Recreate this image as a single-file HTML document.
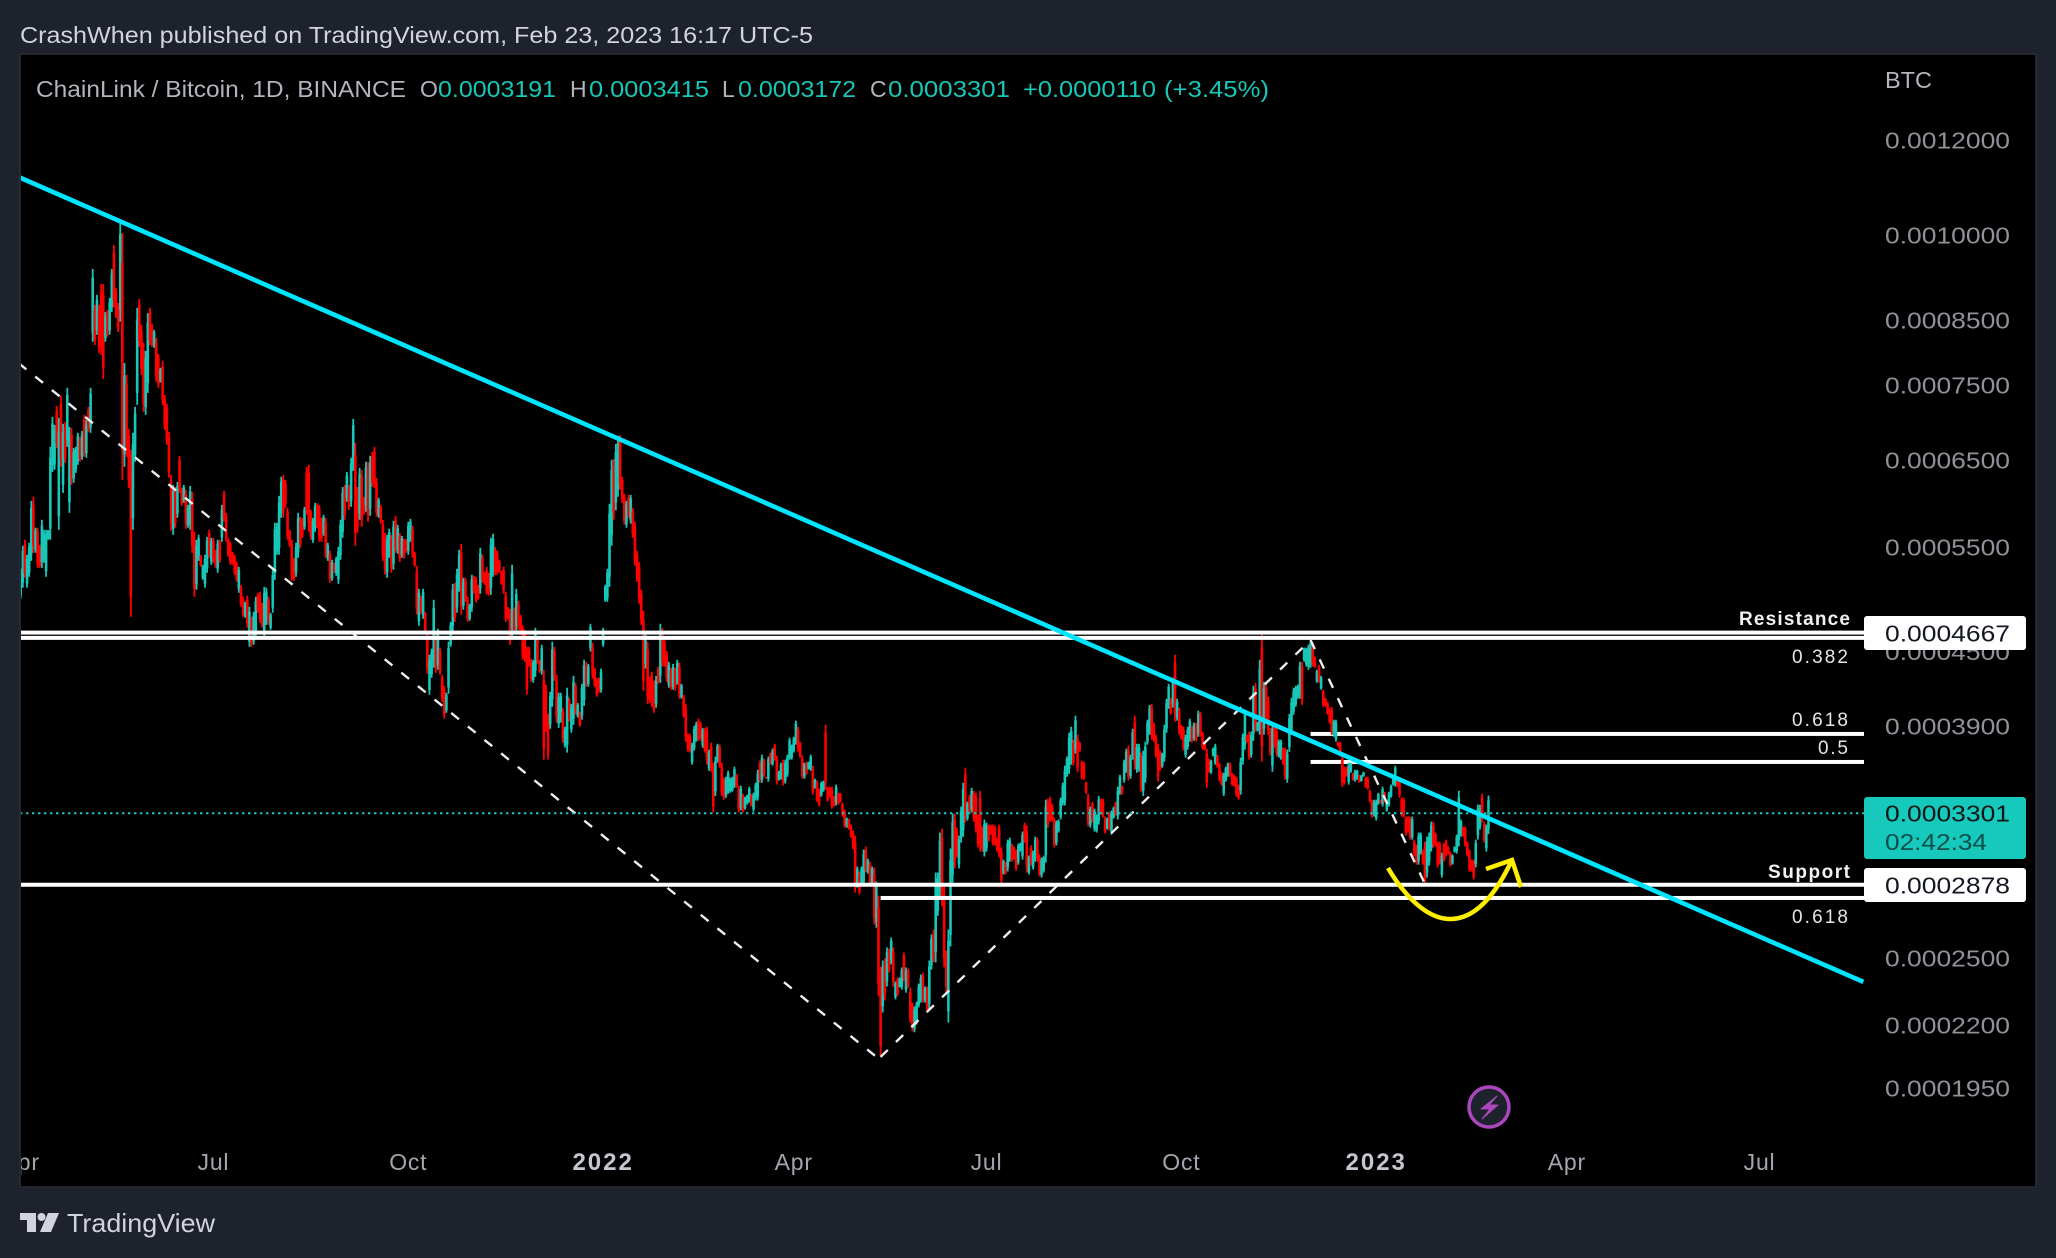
<!DOCTYPE html>
<html lang="en">
<head>
<meta charset="utf-8">
<title>ChainLink / Bitcoin chart</title>
<style>
html,body{margin:0;padding:0;background:#1e222d;}
svg{display:block;font-family:"Liberation Sans",sans-serif;}
</style>
</head>
<body>
<svg id="chart" xmlns="http://www.w3.org/2000/svg" width="2056" height="1258" viewBox="0 0 2056 1258">
  <defs><clipPath id="panel-clip"><rect x="21" y="55" width="2014" height="1131"/></clipPath></defs>
  <rect x="0" y="0" width="2056" height="1258" fill="#1e222d"/>
  <rect x="20" y="54" width="2016" height="1133" fill="#000" stroke="#2a2e39" stroke-width="1.5"/>
  <text x="20" y="43" font-size="23" fill="#d1d4dc" textLength="793" lengthAdjust="spacingAndGlyphs">CrashWhen published on TradingView.com, Feb 23, 2023 16:17 UTC-5</text>

  <g id="fib-lines"></g>
  <g id="candles" clip-path="url(#panel-clip)"></g>
  <g id="level-lines" clip-path="url(#panel-clip)"></g>
  <g id="dashes" clip-path="url(#panel-clip)"></g>
  <g id="last-price" clip-path="url(#panel-clip)"></g>
  <g id="trend" clip-path="url(#panel-clip)"></g>

  <g fill="none" stroke="#ffee00" stroke-width="4.5">
    <path d="M1388 868 C1410 905 1433 920 1452 919 C1476 918 1496 894 1512 860"/>
    <path d="M1486 869 L1512 860 L1521 887"/>
  </g>

  <g id="price-axis"></g>
  <g id="time-axis" clip-path="url(#panel-clip)"></g>

  <text x="1885" y="88" font-size="23" fill="#b2b5be" textLength="47" lengthAdjust="spacingAndGlyphs">BTC</text>

  <g font-size="23">
    <text x="36" y="97" fill="#b2b5be" textLength="370" lengthAdjust="spacingAndGlyphs">ChainLink / Bitcoin, 1D, BINANCE</text>
    <text x="420" y="97" fill="#b2b5be">O</text>
    <text x="438" y="97" fill="#17c7b7" textLength="118" lengthAdjust="spacingAndGlyphs">0.0003191</text>
    <text x="570" y="97" fill="#b2b5be">H</text>
    <text x="589" y="97" fill="#17c7b7" textLength="120" lengthAdjust="spacingAndGlyphs">0.0003415</text>
    <text x="722" y="97" fill="#b2b5be">L</text>
    <text x="738" y="97" fill="#17c7b7" textLength="118" lengthAdjust="spacingAndGlyphs">0.0003172</text>
    <text x="870" y="97" fill="#b2b5be">C</text>
    <text x="888" y="97" fill="#17c7b7" textLength="122" lengthAdjust="spacingAndGlyphs">0.0003301</text>
    <text x="1023" y="97" fill="#17c7b7" textLength="133" lengthAdjust="spacingAndGlyphs">+0.0000110</text>
    <text x="1164" y="97" fill="#17c7b7" textLength="105" lengthAdjust="spacingAndGlyphs">(+3.45%)</text>
  </g>

  <g>
    <text x="1739" y="625" font-size="19" font-weight="bold" fill="#f2f2f2" textLength="111" lengthAdjust="spacing">Resistance</text>
    <text x="1768" y="878" font-size="19" font-weight="bold" fill="#f2f2f2" textLength="82" lengthAdjust="spacing">Support</text>
    <text x="1792" y="663" font-size="19" fill="#e6e6e6" textLength="56" lengthAdjust="spacing">0.382</text>
    <text x="1792" y="726" font-size="19" fill="#e6e6e6" textLength="56" lengthAdjust="spacing">0.618</text>
    <text x="1818" y="754" font-size="19" fill="#e6e6e6" textLength="30" lengthAdjust="spacing">0.5</text>
    <text x="1792" y="923" font-size="19" fill="#e6e6e6" textLength="56" lengthAdjust="spacing">0.618</text>
  </g>

  <g>
    <rect x="1864" y="616" width="162" height="34" rx="3" fill="#fff"/>
    <text x="1885" y="641.5" font-size="23" fill="#131722" textLength="125" lengthAdjust="spacingAndGlyphs">0.0004667</text>
  </g>
  <g>
    <rect x="1864" y="797" width="162" height="62" rx="3" fill="#17c9bc"/>
    <text x="1885" y="821.5" font-size="23" fill="#0b1514" textLength="125" lengthAdjust="spacingAndGlyphs">0.0003301</text>
    <text x="1885" y="850" font-size="23" fill="#0b4f4a" textLength="102" lengthAdjust="spacingAndGlyphs">02:42:34</text>
  </g>
  <g>
    <rect x="1864" y="868" width="162" height="34" rx="3" fill="#fff"/>
    <text x="1885" y="893.5" font-size="23" fill="#131722" textLength="125" lengthAdjust="spacingAndGlyphs">0.0002878</text>
  </g>

  <g>
    <circle cx="1489" cy="1107" r="20" fill="#1e222d" stroke="#ab47bc" stroke-width="3.5"/>
    <path d="M1497 1096 L1481 1109 L1490 1109 L1482 1119 L1498 1105 L1489 1105 Z" fill="#ab47bc" stroke="#ab47bc" stroke-width="1" stroke-linejoin="round"/>
  </g>

  <g>
    <path d="M20 1213 H36 V1232 H27 V1220 H20 Z" fill="#d1d4dc"/>
    <circle cx="41.5" cy="1217" r="4" fill="#d1d4dc"/>
    <path d="M48 1213 H59 L51 1232 H40 Z" fill="#d1d4dc"/>
    <text x="67" y="1232" font-size="26" fill="#d1d4dc" textLength="148" lengthAdjust="spacingAndGlyphs">TradingView</text>
  </g>
</svg>

<script>
// All prices are in units of 0.0000001 BTC. One entry per daily candle, starting 2021-04-01.
const candleHighs = [
5274,5512,5576,5418,5544,6008,6055,5706,5706,5523,
5794,5684,5684,5684,6664,7058,6950,7208,7045,7350,
6965,6990,7462,6924,6910,6650,6664,6845,6793,6870,
7085,7018,7195,7462,9372,8750,8917,8750,9105,9105,
8630,8664,8865,9372,9810,9038,8780,10250,10040,7825,
7650,6897,6625,6845,7195,8700,8850,8420,8135,8010,
8610,8700,8435,8339,8210,7965,7755,7858,7362,7235,
6858,6315,6195,6170,6230,6550,6160,6195,6136,5963,
6183,6113,5662,5576,5630,5418,5315,5418,5608,5684,
5597,5597,5470,5576,5576,5963,6125,5872,5597,5554,
5449,5418,5345,5294,5115,4999,4951,5009,4904,4810,
4857,4999,5037,5047,4942,5095,5086,4999,4848,5264,
5760,5760,6066,6292,6315,6255,5929,5684,5576,5387,
5544,5872,5827,5816,5940,6413,6438,5906,5816,5985,
5980,5963,5816,5850,5816,5544,5460,5366,5335,5398,
5502,5794,6170,6195,6351,6195,6525,7030,6715,6170,
6400,6376,6055,6475,6475,6550,6600,6664,6280,6043,
5963,5794,5651,5630,5695,5630,5783,5838,5739,5651,
5619,5587,5587,5772,5805,5728,5449,5305,5076,5009,
5076,4857,4674,4473,4525,4970,4665,4701,4534,4305,
4215,4159,4586,4764,5124,5134,5274,5470,5533,5184,
5184,4999,4932,5214,5204,5194,5115,5491,5418,5244,
5294,5234,5597,5641,5500,5460,5366,5254,5294,5047,
4904,4885,5315,4895,5076,4960,4830,4737,4692,4542,
4542,4438,4430,4710,4630,4430,4560,4346,4223,3994,
4167,4586,4542,4305,4159,4159,4041,3896,4199,4119,
4071,4296,4239,4079,4010,4231,4430,4413,4396,4746,
4578,4363,4280,4280,4355,4710,5115,5274,5974,6500,
6512,6700,6806,6819,6292,6090,6008,6078,6078,5929,
5772,5460,5345,5066,4866,4683,4586,4288,4330,4255,
4296,4372,4746,4710,4603,4507,4413,4363,4396,4363,
4430,4405,4231,4143,4071,3845,3845,3779,3903,3934,
3957,3934,3888,3888,3896,3729,3779,3637,3680,3771,
3765,3637,3534,3540,3581,3534,3540,3609,3560,3480,
3480,3426,3407,3420,3473,3426,3433,3500,3588,3651,
3693,3665,3540,3680,3708,3736,3771,3686,3581,3637,
3658,3658,3693,3815,3765,3822,3942,3896,3786,3686,
3637,3644,3644,3693,3616,3527,3514,3460,3507,3514,
3911,3473,3473,3473,3412,3487,3433,3433,3369,3324,
3274,3267,3230,3193,3162,2980,2952,2980,3079,3097,
3026,3008,2980,2975,2896,2818,2460,2489,2499,2552,
2547,2601,2552,2391,2409,2409,2456,2527,2456,2451,
2363,2296,2279,2300,2381,2423,2432,2368,2368,2489,
2616,2641,2946,2946,3181,3205,2868,2537,2641,3085,
3298,3298,3211,3162,3343,3500,3602,3375,3420,3466,
3446,3433,3292,3446,3218,3261,3242,3230,3230,3230,3224,
3150,3230,3091,3020,3008,3138,3150,3114,3097,3079,
3114,3120,3187,3242,3224,3044,3103,3073,3156,3150,
3050,3032,3044,3388,3394,3407,3362,3274,3255,3261,
3401,3500,3616,3680,3852,3896,3801,3980,3837,3786,
3651,3644,3507,3426,3343,3375,3330,3292,3412,3394,
3394,3280,3274,3311,3318,3343,3375,3473,3553,3480,
3658,3736,3758,3693,3881,3980,3771,3771,3708,3722,
3786,3949,4063,4071,3927,3837,3771,3722,3708,3911,
4111,4231,4119,4280,4473,4111,4041,3911,3896,3837,
3896,3957,3903,3927,3927,4018,4010,3860,3786,3736,
3665,3658,3743,3771,3693,3637,3574,3567,3609,3637,
3637,3567,3553,3540,3487,3672,3845,4025,3837,3860,3860,
4215,4239,3934,4430,4674,4247,4239,4127,3888,3927,
3911,3888,3801,3801,3743,3743,3729,3994,4119,4199,
4215,4223,4413,4413,4534,4534,4560,4603,4578,4456,
4346,4388,4296,4183,4119,4087,4041,4048,3949,3949,
3786,3786,3693,3609,3609,3637,3637,3567,3588,3588,
3553,3553,3574,3540,3540,3453,3388,3388,3388,
3433,3388,3473,3440,3388,3440,3487,3553,3616,3540,
3540,3401,3401,3280,3280,3280,3280,3138,3108,3181,
3181,3079,3126,3156,3181,3248,3248,3181,3126,3126,
3061,3120,3138,3097,3067,3050,3097,3168,3446,3261,
3218,3218,3126,3079,3020,3020,3138,3356,3356,
3426,3248,3230,3415
];
const candleLows = [
4980,5086,5184,5086,5194,5355,5438,5438,5284,5284,
5284,5335,5194,5576,5576,6351,6376,6650,5684,6413,
6100,6462,6664,5872,6195,6219,6339,6438,6475,6500,
6537,6525,6858,6845,8150,8100,8260,7980,7950,7590,
8150,8230,8260,8630,8700,8530,8305,8470,6255,6413,
6537,6160,4810,5684,6475,7222,8070,7650,7125,7085,
7390,8100,8070,8055,7550,7462,7535,7222,6884,6690,
6280,5673,5630,5706,5816,6100,5950,5985,5695,5706,
5684,5438,4999,5066,5355,5294,5164,5086,5234,5387,
5315,5335,5284,5234,5335,5554,5772,5554,5398,5315,
5315,5214,5144,5037,4904,4810,4801,4710,4542,4542,
4560,4621,4848,4755,4710,4612,4737,4737,4692,4848,
5164,5418,5418,5816,5816,5929,5576,5502,5154,5154,
5194,5387,5491,5597,5684,5850,5662,5576,5544,5662,
5700,5554,5554,5619,5387,5355,5134,5154,5234,5204,
5124,5366,5597,5794,5997,5906,5940,6364,5512,5651,
5794,5717,5850,5883,5772,5838,6170,6160,5827,5816,
5750,5355,5214,5184,5387,5234,5264,5438,5428,5345,
5387,5377,5438,5418,5554,5387,5294,4830,4728,4839,
4792,4665,4313,4143,4280,4363,4321,4346,4305,4087,
3957,4002,4151,4542,4674,4764,4848,5047,4830,4876,
4951,4764,4774,4857,5028,4942,4970,5028,5134,5115,
5018,5009,5018,5194,5210,5214,5234,5115,5028,4764,
4783,4560,4630,4665,4674,4692,4647,4430,4413,4143,
4372,4247,4239,4288,4396,4321,4305,3658,3860,3658,
3881,4048,4255,3927,3888,3927,3779,3743,3708,3934,
3852,3911,3987,3965,3896,3949,4056,4207,4207,4500,
4272,4207,4127,4159,4159,4542,4951,4951,5095,5512,
5794,5900,6055,6136,5985,5739,5706,5816,5750,5597,
5305,5144,4932,4737,4175,4355,4071,4079,4048,4002,
4041,4231,4239,4372,4372,4247,4199,4183,4183,4175,
4223,4111,4111,3965,3786,3714,3708,3623,3722,3786,
3793,3793,3743,3708,3623,3581,3574,3305,3412,3637,
3602,3412,3388,3400,3426,3433,3440,3466,3466,3305,
3318,3305,3324,3356,3369,3343,3311,3382,3382,3500,
3500,3540,3527,3507,3623,3616,3651,3487,3514,3520,
3480,3494,3540,3658,3658,3708,3765,3714,3672,3527,
3527,3553,3588,3581,3420,3460,3375,3343,3407,3440,
3453,3375,3401,3330,3343,3350,3356,3369,3280,3211,
3211,3199,3150,3079,2835,2862,2824,2868,2868,2946,
2940,2874,2874,2666,2650,2324,2070,2253,2305,2368,
2432,2470,2368,2310,2324,2363,2354,2391,2340,2363,
2210,2173,2169,2201,2275,2296,2296,2296,2253,2266,
2446,2480,2480,2712,2797,2760,2456,2345,2210,2557,
2890,2969,3032,2969,3120,3156,3242,3255,3305,3305,
3248,3181,3091,3067,3067,3038,3067,3126,3168,3103,3103,
3067,3032,2879,2935,2935,2952,3008,3008,3020,2957,
2991,3067,3020,3120,2946,2935,2986,2963,3008,3008,
2924,2918,2946,3003,3211,3248,3248,3091,3103,3181,
3261,3350,3350,3540,3560,3623,3616,3700,3574,3714,
3520,3520,3426,3218,3211,3242,3187,3181,3230,3292,
3274,3175,3199,3193,3168,3267,3286,3261,3420,3420,
3500,3567,3514,3527,3658,3588,3567,3574,3440,3412,
3500,3765,3837,3801,3786,3672,3507,3581,3602,3644,
3852,4033,3987,4041,3934,3942,3837,3801,3722,3672,
3729,3786,3779,3793,3786,3822,3822,3729,3722,3466,
3567,3560,3680,3623,3602,3507,3480,3412,3507,3540,
3540,3480,3473,3407,3388,3420,3623,3729,3779,3658,3672,
3793,3860,3860,3837,3644,3837,3927,3837,3686,3574,
3743,3680,3672,3658,3623,3520,3500,3714,3837,3987,
4048,4111,4111,4063,4413,4372,4346,4363,4372,4363,
4239,4239,4183,4048,4048,3987,3919,3837,3822,3786,
3750,3680,3473,3487,3540,3487,3567,3514,3507,3520,
3500,3507,3540,3466,3453,3369,3274,3280,3255,
3356,3362,3343,3369,3311,3343,3401,3480,3473,3473,
3401,3280,3274,3162,3181,3138,3138,3038,2991,2991,
3050,2991,2879,2918,2986,3067,3091,3097,2975,2991,
2918,3008,3038,3050,2980,2991,3061,3055,3097,3156,
3156,3097,3038,2952,2952,2907,2975,3138,3199,
3242,3120,3067,3172
];
// G = bullish candle, R = bearish candle.
const candleDirections = (
"GGRGGGRGRR"+"GGGGGGGRGR"+"GRGGRGGGRG"+"RGRGGRGRRR"+"GRGGRRRGRG"+
"RRRGGGRRRG"+"GRRGRRGRRR"+"RRGRGRRGRG"+"GRRGGRGGGR"+"GRRGRGRRRR"+
"RRRGRRGRGR"+"GGRRRGGRGG"+"GGGGRRRRRR"+"GGRRGRRRGG"+"RRRGRGRGRG"+
"GGGRGRGGRR"+"GRRGRGRRRG"+"RRRGGRGRGR"+"GRRGGRRRGR"+"GRRGGGRGRR"+
"RGGGGRGGRG"+"RRGGRRRGRR"+"RRGGRRRRRR"+"RRGRGRRRRR"+"RRGGRRGRRR"+
"GGRRGGRGGR"+"GGRGRGGRGG"+"RRRRGGGGGG"+"RGGRRRGRGR"+"RRRRRGRRRR"+
"GRGRRRGRGR"+"GRGRRRRGGG"+"RRGRRGRRGG"+"RRRGGGGGRR"+"GRGGGRGGGR"+
"GRRGRGRRGG"+"RGGGGGGRRR"+"GRGGRGRRGG"+"RRRRRGRRRR"+"GRRRRGRGGR"+
"GRGRGRRGRG"+"RGRGRGGRGR"+"RRGGGGRGRG"+"GRGGGRRRGG"+"GRRGGGRGRG"+
"RRRRRGGRRRR"+"RRRGRGGRRR"+"GGGRRGRGGR"+"RGGGRRRRGG"+"GGGGGGRGRR"+
"RRRRGRGGGR"+"RRGRGGRGGR"+"GGRGGRGGRG"+"GGGRRRRRGG"+"GGRGRGRRRG"+
"GGRGRGRRRR"+"RGGGRRRGGG"+"RRRRRGGGRRG"+"GRGGRGRRRG"+"RRGGRRGGGG"+
"GGGRGGGGRR"+"GRGRRRRRGG"+"RRRRRGGRGG"+"RGGRRRRGG"+"GRGRGGGGGR"+
"RRRRRRGRRG"+"GRRGGGRRRR"+"GRRRRGGGGG"+"RRRRRRGGG"+"RRGG"
).split('');

const priceTicks = [12000,10000,8500,7500,6500,5500,4500,3900,2500,2200,1950];
const timeTickLabels = ["Apr","Jul","Oct","2022","Apr","Jul","Oct","2023","Apr","Jul"];
const timeTickDates = ["2021-04-01","2021-07-01","2021-10-01","2022-01-01","2022-04-01","2022-07-01","2022-10-01","2023-01-01","2023-04-01","2023-07-01"];
const resistanceLevels = [4667,4620];
const supportLevels = [2878,2806];
const fibLevels = [3843,3642];
const lastPrice = [3301];
// Drawings: [date, price] anchors
const trendlineAnchors = [["2021-03-31",11178],["2023-08-19",2389]];
const legStartDates = ["2021-03-31","2022-05-12","2022-12-01"];
const legStartPrices = [7824,2069,4601];
const legEndDates = ["2022-05-10","2022-12-01","2023-01-24"];
const legEndPrices = [2069,4601,2882];
const fibStartDate = ["2022-12-01"];
const lowerSupportStartDate = ["2022-05-12"];

const NS = "http://www.w3.org/2000/svg";
const firstDayMs = Date.UTC(2021,3,1);
const xOfDay = d => 20.7 + d * 2.118;
const xOfDate = s => xOfDay((Date.parse(s) - firstDayMs) / 86400000);
const yOfPrice = p => 140 + 521.6 * Math.log(12000 / p);
const CHART_RIGHT = 1864;

function svgEl(tag, attrs, parent){
  const el = document.createElementNS(NS, tag);
  for (const k in attrs) el.setAttribute(k, attrs[k]);
  parent.appendChild(el);
  return el;
}

// Fibonacci levels (under the candles)
const fibGroup = document.getElementById('fib-lines');
fibLevels.forEach(function(p){
  const el = svgEl('rect', {x:xOfDate(fibStartDate[0]), y:yOfPrice(p)-2, width:CHART_RIGHT-xOfDate(fibStartDate[0]), height:4, fill:'#fff'}, fibGroup);
  
  
});

// Candles
const candleGroup = document.getElementById('candles');
const COL_UP = '#17c7b7', COL_DOWN = '#ff0000';
const candleCount = Math.min(candleHighs.length, candleLows.length, candleDirections.length);
for (let i = 0; i < candleCount; i++) {
  const x = xOfDay(i);
  const yH = yOfPrice(candleHighs[i]);
  const yL = yOfPrice(candleLows[i]);
  const col = candleDirections[i] === 'G' ? COL_UP : COL_DOWN;
  const wick = svgEl('rect', {x:x-0.9, y:yH, width:1.8, height:Math.max(1,yL-yH), fill:col}, candleGroup);
  
  
  const inset = (yL - yH) * 0.12;
  const body = svgEl('rect', {x:x-1.3, y:yH+inset, width:2.6, height:Math.max(1,yL-yH-2*inset), fill:col}, candleGroup);
  
  
}

// Horizontal resistance and support lines
const levelGroup = document.getElementById('level-lines');
resistanceLevels.forEach(function(p){
  const el = svgEl('rect', {x:20, y:yOfPrice(p)-2, width:CHART_RIGHT-20, height:4, fill:'#fff'}, levelGroup);
  
  
});
supportLevels.forEach(function(p, i){
  const startX = i === 0 ? 20 : xOfDate(lowerSupportStartDate[0]);
  const el = svgEl('rect', {x:startX, y:yOfPrice(p)-2, width:CHART_RIGHT-startX, height:4, fill:'#fff'}, levelGroup);
  
  
});

// Dashed swing legs
const dashGroup = document.getElementById('dashes');
for (let i = 0; i < legStartDates.length; i++) {
  const el = svgEl('line', {
    x1:xOfDate(legStartDates[i]), y1:yOfPrice(legStartPrices[i]),
    x2:xOfDate(legEndDates[i]), y2:yOfPrice(legEndPrices[i]),
    stroke:'#eeeeee', 'stroke-width':2.4, 'stroke-dasharray':'10 11.4'
  }, dashGroup);
  
  
}

// Last price dotted line
const lastGroup = document.getElementById('last-price');
const lastLine = svgEl('line', {x1:20, x2:CHART_RIGHT, y1:yOfPrice(lastPrice[0]), y2:yOfPrice(lastPrice[0]), stroke:'#17c9bc', 'stroke-width':2, 'stroke-dasharray':'2.4 3.6'}, lastGroup);



// Cyan trendline
const trendGroup = document.getElementById('trend');
const trendLine = svgEl('line', {
  x1:xOfDate(trendlineAnchors[0][0]), y1:yOfPrice(trendlineAnchors[0][1]),
  x2:xOfDate(trendlineAnchors[1][0]), y2:yOfPrice(trendlineAnchors[1][1]),
  stroke:'#00e5ff', 'stroke-width':4.6
}, trendGroup);



// Price axis
const priceAxis = document.getElementById('price-axis');
priceTicks.forEach(function(p){
  const t = svgEl('text', {x:1885, y:yOfPrice(p)+8.5, 'font-size':23, fill:'#8f9299', textLength:125, lengthAdjust:'spacingAndGlyphs'}, priceAxis);
  t.textContent = (p / 1e7).toFixed(7);
  
  
});

// Time axis
const timeAxis = document.getElementById('time-axis');
timeTickLabels.forEach(function(label, i){
  const isYear = /^\d+$/.test(label);
  const t = svgEl('text', {x:xOfDate(timeTickDates[i]), y:1170, 'font-size':isYear?24:23, 'text-anchor':'middle', 'letter-spacing':isYear?2:0.8, 'font-weight':isYear?'bold':'normal', fill:isYear?'#c4c7d0':'#a3a6af'}, timeAxis);
  t.textContent = label;
  
  
});
</script>
</body>
</html>
